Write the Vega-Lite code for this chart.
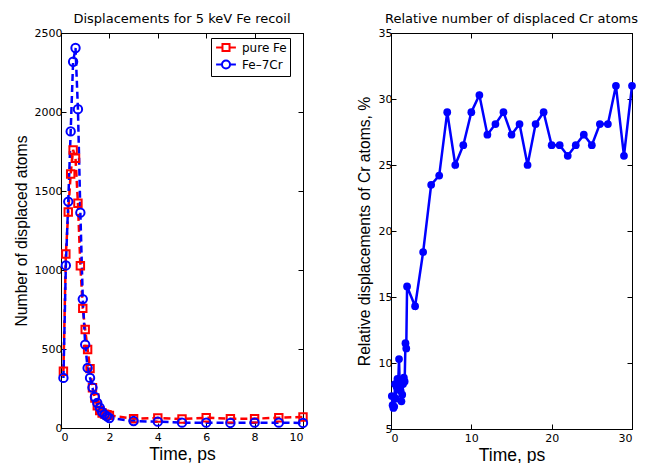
{
  "$schema": "https://vega.github.io/schema/vega-lite/v6.json",
  "background": "white",
  "padding": {"left": 12, "top": 12, "right": 0, "bottom": 0},
  "config": {
    "font": "DejaVu Sans",
    "view": {"stroke": "black", "strokeWidth": 1},
    "axis": {"grid": false, "domainColor": "black", "tickColor": "black", "labelColor": "black", "titleColor": "black", "labelFont": "DejaVu Sans", "labelFontSize": 11, "titleFont": "Liberation Sans", "titleFontWeight": "normal", "tickSize": -5, "labelPadding": 4},
    "axisX": {"labelPadding": 8},
    "title": {"font": "DejaVu Sans", "fontSize": 13, "fontWeight": "normal", "offset": 1, "color": "black"},
    "concat": {"spacing": 43}
  },
  "hconcat": [
    {
      "width": 242,
      "height": 395,
      "title": "Displacements for 5 keV Fe recoil",
      "data": {"values": [
        {"t": 0.1, "n": 359, "s": "pure Fe"}, {"t": 0.2, "n": 1101, "s": "pure Fe"}, {"t": 0.3, "n": 1367, "s": "pure Fe"}, {"t": 0.4, "n": 1608, "s": "pure Fe"}, {"t": 0.5, "n": 1760, "s": "pure Fe"}, {"t": 0.6, "n": 1707, "s": "pure Fe"}, {"t": 0.7, "n": 1422, "s": "pure Fe"}, {"t": 0.8, "n": 1027, "s": "pure Fe"}, {"t": 0.9, "n": 757, "s": "pure Fe"}, {"t": 1.0, "n": 623, "s": "pure Fe"}, {"t": 1.1, "n": 497, "s": "pure Fe"}, {"t": 1.2, "n": 376, "s": "pure Fe"}, {"t": 1.3, "n": 255, "s": "pure Fe"}, {"t": 1.4, "n": 190, "s": "pure Fe"}, {"t": 1.5, "n": 140, "s": "pure Fe"}, {"t": 1.6, "n": 110, "s": "pure Fe"}, {"t": 1.7, "n": 95, "s": "pure Fe"}, {"t": 1.8, "n": 88, "s": "pure Fe"}, {"t": 1.9, "n": 84, "s": "pure Fe"}, {"t": 2.0, "n": 80, "s": "pure Fe"}, {"t": 3, "n": 59, "s": "pure Fe"}, {"t": 4, "n": 63, "s": "pure Fe"}, {"t": 5, "n": 57, "s": "pure Fe"}, {"t": 6, "n": 65, "s": "pure Fe"}, {"t": 7, "n": 59, "s": "pure Fe"}, {"t": 8, "n": 59, "s": "pure Fe"}, {"t": 9, "n": 65, "s": "pure Fe"}, {"t": 10, "n": 70, "s": "pure Fe"},
        {"t": 0.1, "n": 317, "s": "Fe–7Cr"}, {"t": 0.2, "n": 1029, "s": "Fe–7Cr"}, {"t": 0.3, "n": 1433, "s": "Fe–7Cr"}, {"t": 0.4, "n": 1877, "s": "Fe–7Cr"}, {"t": 0.5, "n": 2318, "s": "Fe–7Cr"}, {"t": 0.6, "n": 2405, "s": "Fe–7Cr"}, {"t": 0.7, "n": 2018, "s": "Fe–7Cr"}, {"t": 0.8, "n": 1363, "s": "Fe–7Cr"}, {"t": 0.9, "n": 816, "s": "Fe–7Cr"}, {"t": 1.0, "n": 528, "s": "Fe–7Cr"}, {"t": 1.1, "n": 380, "s": "Fe–7Cr"}, {"t": 1.2, "n": 317, "s": "Fe–7Cr"}, {"t": 1.3, "n": 256, "s": "Fe–7Cr"}, {"t": 1.4, "n": 196, "s": "Fe–7Cr"}, {"t": 1.5, "n": 158, "s": "Fe–7Cr"}, {"t": 1.6, "n": 129, "s": "Fe–7Cr"}, {"t": 1.7, "n": 101, "s": "Fe–7Cr"}, {"t": 1.8, "n": 85, "s": "Fe–7Cr"}, {"t": 1.9, "n": 74, "s": "Fe–7Cr"}, {"t": 2.0, "n": 63, "s": "Fe–7Cr"}, {"t": 3, "n": 44, "s": "Fe–7Cr"}, {"t": 4, "n": 40, "s": "Fe–7Cr"}, {"t": 5, "n": 34, "s": "Fe–7Cr"}, {"t": 6, "n": 34, "s": "Fe–7Cr"}, {"t": 7, "n": 32, "s": "Fe–7Cr"}, {"t": 8, "n": 34, "s": "Fe–7Cr"}, {"t": 9, "n": 34, "s": "Fe–7Cr"}, {"t": 10, "n": 32, "s": "Fe–7Cr"}
      ]},
      "layer": [
        {
          "mark": {"type": "line", "strokeDash": [7, 4], "strokeWidth": 2.5},
          "encoding": {
            "x": {"field": "t", "type": "quantitative", "scale": {"domain": [0, 10], "nice": false}, "axis": {"values": [0, 2, 4, 6, 8, 10], "title": "Time, ps", "titleFontSize": 17.5, "titleFontWeight": "normal", "titlePadding": 3}},
            "y": {"field": "n", "type": "quantitative", "scale": {"domain": [0, 2500], "nice": false}, "axis": {"values": [0, 500, 1000, 1500, 2000, 2500], "format": "d", "title": "Number of displaced atoms", "titleFontSize": 15.7, "titleFontWeight": "normal", "titlePadding": 5}},
            "color": {"field": "s", "type": "nominal", "scale": {"domain": ["pure Fe", "Fe–7Cr"], "range": ["#ff0000", "#0000ff"]},
              "legend": {"title": null, "orient": "none", "legendX": 150, "legendY": 5, "strokeColor": "black", "fillColor": "white", "padding": 3, "labelFont": "DejaVu Sans", "labelFontSize": 12, "labelColor": "black", "labelOffset": 15, "symbolSize": 121, "symbolStrokeWidth": 2, "rowPadding": 0,
                "encode": {"symbols": {"update": {"shape": {"signal": "datum.value === 'pure Fe' ? 'M-0.8,0H0.36M1.64,0H2.8M0.36,-0.64H1.64V0.64H0.36Z' : 'M-0.8,0H0.27M1.73,0H2.8M0.27,0A0.73,0.73,0,1,0,1.73,0A0.73,0.73,0,1,0,0.27,0Z'"}, "fill": {"value": "transparent"}}}}}}
          }
        },
        {
          "transform": [{"filter": "datum.s === 'pure Fe'"}],
          "mark": {"type": "point", "shape": "square", "filled": false, "strokeWidth": 2, "size": 55, "opacity": 1, "color": "#ff0000"},
          "encoding": {
            "x": {"field": "t", "type": "quantitative", "scale": {"domain": [0, 10], "nice": false}, "axis": null},
            "y": {"field": "n", "type": "quantitative", "scale": {"domain": [0, 2500], "nice": false}, "axis": null}
          }
        },
        {
          "transform": [{"filter": "datum.s !== 'pure Fe'"}],
          "mark": {"type": "point", "shape": "circle", "filled": false, "strokeWidth": 2, "size": 70, "opacity": 1, "color": "#0000ff"},
          "encoding": {
            "x": {"field": "t", "type": "quantitative", "scale": {"domain": [0, 10], "nice": false}, "axis": null},
            "y": {"field": "n", "type": "quantitative", "scale": {"domain": [0, 2500], "nice": false}, "axis": null}
          }
        },
        {
          "mark": {"type": "point", "opacity": 0},
          "encoding": {
            "x": {"field": "t", "type": "quantitative", "scale": {"domain": [0, 10], "nice": false}, "axis": {"orient": "top", "labels": false, "title": null, "values": [0, 2, 4, 6, 8, 10]}},
            "y": {"field": "n", "type": "quantitative", "scale": {"domain": [0, 2500], "nice": false}, "axis": {"orient": "right", "labels": false, "title": null, "values": [0, 500, 1000, 1500, 2000, 2500]}}
          }
        }
      ],
      "resolve": {"axis": {"x": "independent", "y": "independent"}}
    },
    {
      "width": 241,
      "height": 396,
      "title": "Relative number of displaced Cr atoms",
      "data": {"values": [
        {"t": 0.1, "r": 7.5}, {"t": 0.2, "r": 6.8}, {"t": 0.3, "r": 6.6}, {"t": 0.4, "r": 6.7}, {"t": 0.5, "r": 8.4}, {"t": 0.6, "r": 7.3}, {"t": 0.7, "r": 8.2}, {"t": 0.8, "r": 8.8}, {"t": 0.9, "r": 8.6}, {"t": 1.0, "r": 10.3}, {"t": 1.1, "r": 8.0}, {"t": 1.2, "r": 7.9}, {"t": 1.3, "r": 7.1}, {"t": 1.4, "r": 7.6}, {"t": 1.5, "r": 8.4}, {"t": 1.6, "r": 8.9}, {"t": 1.7, "r": 8.6}, {"t": 1.8, "r": 11.5}, {"t": 1.9, "r": 11.1}, {"t": 2, "r": 15.8},
        {"t": 3, "r": 14.3}, {"t": 4, "r": 18.4}, {"t": 5, "r": 23.5}, {"t": 6, "r": 24.2}, {"t": 7, "r": 29.0}, {"t": 8, "r": 25.0}, {"t": 9, "r": 26.5}, {"t": 10, "r": 29.0}, {"t": 11, "r": 30.3}, {"t": 12, "r": 27.3}, {"t": 13, "r": 28.1}, {"t": 14, "r": 29.0}, {"t": 15, "r": 27.3}, {"t": 16, "r": 28.1}, {"t": 17, "r": 25.0}, {"t": 18, "r": 28.1}, {"t": 19, "r": 29.0}, {"t": 20, "r": 26.5}, {"t": 21, "r": 26.5}, {"t": 22, "r": 25.7}, {"t": 23, "r": 26.5}, {"t": 24, "r": 27.3}, {"t": 25, "r": 26.5}, {"t": 26, "r": 28.1}, {"t": 27, "r": 28.1}, {"t": 28, "r": 31.0}, {"t": 29, "r": 25.7}, {"t": 30, "r": 31.0}
      ]},
      "layer": [
        {
          "mark": {"type": "line", "color": "#0000ff", "strokeWidth": 2.5, "point": {"filled": true, "size": 60, "color": "#0000ff", "opacity": 1}},
          "encoding": {
            "x": {"field": "t", "type": "quantitative", "scale": {"domain": [0, 30], "nice": false}, "axis": {"values": [0, 10, 20, 30], "title": "Time, ps", "titleFontSize": 17.5, "titleFontWeight": "normal", "titlePadding": 3}},
            "y": {"field": "r", "type": "quantitative", "scale": {"domain": [5, 35], "nice": false, "zero": false}, "axis": {"values": [5, 10, 15, 20, 25, 30, 35], "title": "Relative displacements of Cr atoms, %", "titleFontSize": 15.7, "titleFontWeight": "normal", "titlePadding": 6}}
          }
        },
        {
          "mark": {"type": "point", "opacity": 0},
          "encoding": {
            "x": {"field": "t", "type": "quantitative", "scale": {"domain": [0, 30], "nice": false}, "axis": {"orient": "top", "labels": false, "title": null, "values": [0, 10, 20, 30]}},
            "y": {"field": "r", "type": "quantitative", "scale": {"domain": [5, 35], "nice": false, "zero": false}, "axis": {"orient": "right", "labels": false, "title": null, "values": [5, 10, 15, 20, 25, 30, 35]}}
          }
        }
      ],
      "resolve": {"axis": {"x": "independent", "y": "independent"}}
    }
  ]
}
